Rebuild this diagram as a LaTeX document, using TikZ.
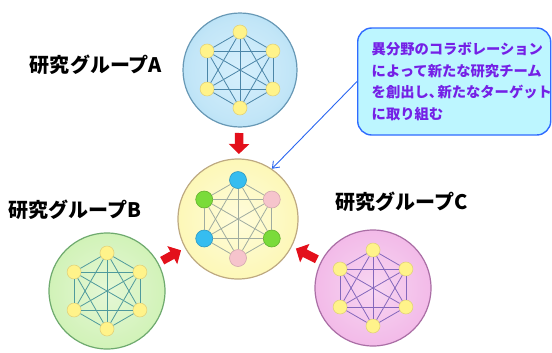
\documentclass[tikz,border=0pt]{standalone}
\usepackage{fontspec}
\newfontfamily\jp{Noto Sans CJK JP}
\usetikzlibrary{arrows.meta,calc}
\definecolor{arrred}{HTML}{E3101B}
\definecolor{ptrblue}{HTML}{2A66F0}
\definecolor{notefill}{HTML}{BDF6FF}
\definecolor{noteline}{HTML}{2F6BFF}
\definecolor{notetext}{HTML}{7420E6}
\definecolor{ndyellow}{HTML}{FFF38A}
\definecolor{ndyline}{HTML}{E2D27A}
\definecolor{ndcyan}{HTML}{36BDF0}
\definecolor{ndgreen}{HTML}{7ADB3A}
\definecolor{ndpink}{HTML}{F6C4CC}
\definecolor{edA}{HTML}{4C86A8}
\definecolor{edM}{HTML}{A0ACA0}
\definecolor{edB}{HTML}{4F9A9C}
\definecolor{edC}{HTML}{8468BC}
\pgfdeclareradialshading{shA}{\pgfpoint{0bp}{0bp}}{rgb(0bp)=(0.84,0.94,0.99);rgb(22bp)=(0.76,0.90,0.97);rgb(50bp)=(0.55,0.80,0.93)}
\pgfdeclareradialshading{shM}{\pgfpoint{0bp}{0bp}}{rgb(0bp)=(1,0.99,0.86);rgb(25bp)=(0.99,0.97,0.72);rgb(50bp)=(0.97,0.93,0.58)}
\pgfdeclareradialshading{shB}{\pgfpoint{0bp}{0bp}}{rgb(0bp)=(0.90,0.97,0.84);rgb(25bp)=(0.82,0.95,0.72);rgb(50bp)=(0.68,0.90,0.53)}
\pgfdeclareradialshading{shC}{\pgfpoint{0bp}{0bp}}{rgb(0bp)=(0.97,0.84,0.95);rgb(25bp)=(0.95,0.73,0.91);rgb(50bp)=(0.92,0.55,0.86)}
\newcommand\hexnet[9]{%
  \foreach \k/\a/\st in {1/-90/#4,2/-30/#5,3/30/#6,4/90/#7,5/150/#8,6/210/#9}
    \node[\st] (#1\k) at ($(#1)+({cos(\a)*#2},{sin(\a)*#2})$) {};
  \foreach \i in {1,...,5}{%
    \pgfmathtruncatemacro\nxt{\i+1}%
    \foreach \j in {\nxt,...,6} \draw[#3] (#1\i) -- (#1\j);}%
}
\begin{document}
\begin{tikzpicture}[x=1bp,y=-1bp,
  grp/.style={circle, inner sep=0pt, line width=1.2bp, shade},
  grpA/.style={grp, minimum size=114bp, shading=shA, draw=edA!85!white},
  grpM/.style={grp, minimum size=120bp, shading=shM, draw={rgb,255:red,190;green,170;blue,130}},
  grpB/.style={grp, minimum size=116bp, shading=shB, draw={rgb,255:red,110;green,170;blue,110}},
  grpC/.style={grp, minimum size=116bp, shading=shC, draw={rgb,255:red,170;green,110;blue,165}},
  dot/.style={circle, inner sep=0pt, minimum size=14bp, line width=0.6bp},
  ny/.style={dot, fill=ndyellow, draw=ndyline},
  mdot/.style={dot, minimum size=17bp},
  mc/.style={mdot, fill=ndcyan, draw=ndcyan!80!black},
  mg/.style={mdot, fill=ndgreen, draw=ndgreen!80!black},
  mp/.style={mdot, fill=ndpink, draw=ndpink!85!black},
  eA/.style={draw=edA, line width=0.8bp},
  eM/.style={draw=edM, line width=0.8bp},
  eB/.style={draw=edB, line width=0.8bp},
  eC/.style={draw=edC, line width=0.8bp},
  redarr/.style={draw=arrred, line width=8.5bp, -{Triangle[width=20bp,length=10bp]}, shorten <=63bp, shorten >=65bp},
  lbl/.style={font=\jp\bfseries\fontsize{20bp}{23bp}\selectfont, inner sep=0pt},
  note/.style={draw=noteline, fill=notefill, line width=1.4bp, rounded corners=14bp,
    minimum height=107bp, text width=165bp, inner xsep=14bp, inner ysep=0pt, align=left,
    text=notetext, font=\jp\bfseries\fontsize{14.3bp}{21.7bp}\selectfont},
  ptr/.style={draw=ptrblue, line width=0.9bp, -{Straight Barb[length=6bp,width=9bp]}}
]
\useasboundingbox (0,0) rectangle (552,352);
\node[grpA] (A) at (240,70) {};
\node[grpM] (M) at (238,219) {};
\node[grpB] (B) at (107,291) {};
\node[grpC] (C) at (373,288) {};
\hexnet{A}{38}{eA}{ny}{ny}{ny}{ny}{ny}{ny}
\hexnet{M}{39}{eM}{mc}{mp}{mg}{mp}{mc}{mg}
\hexnet{B}{38}{eB}{ny}{ny}{ny}{ny}{ny}{ny}
\hexnet{C}{38}{eC}{ny}{ny}{ny}{ny}{ny}{ny}
\draw[redarr] (A.center) -- (M.center);
\draw[redarr] (B.center) -- (M.center);
\draw[redarr] (C.center) -- (M.center);
\node[lbl] (la) at (96,65) {研究グループA};
\node[lbl] (lb) at (75,210) {研究グループB};
\node[lbl] (lc) at (402,202) {研究グループC};
\node[note, anchor=west] (nt) at (357,81.5) {異分野のコラボレーション\\によって新たな研究チーム\\を創出し、\kern-0.4em新たなターゲット\\に取り組む};
\draw[ptr] (nt.west) -- (M.56);
\end{tikzpicture}
\end{document}
